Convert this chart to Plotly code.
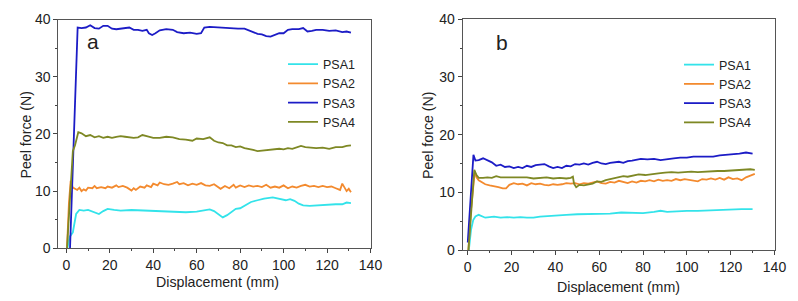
import plotly.graph_objects as go

# ---------------- data ----------------
series_names = ["PSA1", "PSA2", "PSA3", "PSA4"]
series_colors = ["#33E3EA", "#F38A2E", "#1C1CC6", "#7E8824"]

# panel a : (displacement mm, peel force N)
a_psa1 = [(0.5, 0), (1.5, 2.0), (3, 2.8), (4.5, 6.0), (6, 6.7), (8, 6.6), (10, 6.7), (13, 6.3),
          (15, 6.0), (17, 6.5), (19, 6.9), (22, 6.7), (25, 6.6), (30, 6.7), (35, 6.6), (40, 6.6),
          (45, 6.5), (50, 6.3), (55, 6.3), (60, 6.4), (63, 6.6), (66, 6.8), (68, 6.5), (70, 5.9),
          (72, 5.4), (74, 5.8), (76, 6.3), (78, 6.9), (80, 7.0), (82, 7.4), (85, 8.1), (88, 8.4),
          (91, 8.7), (95, 8.9), (97, 8.7), (99, 8.5), (101, 8.4), (103, 8.6), (105, 8.3), (107, 7.8),
          (109, 7.5), (112, 7.4), (115, 7.5), (118, 7.6), (121, 7.7), (124, 7.7), (127, 7.7),
          (129, 8.0), (131, 7.9)]
a_psa2 = [(0.3, 0), (1.2, 8.0), (2, 11.8), (3, 10.6), (4, 10.4), (5, 10.2), (6, 10.6), (7, 10.0),
          (8, 10.3), (9, 10.1), (10, 10.6), (12, 10.5), (13, 10.9), (14, 10.5), (16, 10.7), (18, 10.5),
          (19, 10.8), (21, 10.6), (23, 11.0), (24, 10.7), (26, 10.9), (28, 10.6), (30, 10.1), (31, 10.5),
          (32, 10.2), (34, 10.8), (36, 10.6), (37, 11.0), (39, 10.7), (40, 11.3), (42, 11.0), (43, 11.5),
          (45, 11.2), (47, 11.1), (49, 11.3), (51, 11.6), (52, 11.2), (54, 11.4), (56, 11.0), (58, 11.3),
          (60, 11.1), (62, 11.4), (64, 11.0), (66, 10.9), (68, 11.2), (70, 10.7), (71, 10.4), (73, 10.9),
          (75, 10.5), (77, 11.1), (78, 10.6), (80, 11.0), (82, 10.7), (84, 11.0), (86, 10.8), (88, 10.9),
          (90, 10.7), (92, 11.1), (94, 10.6), (96, 10.8), (98, 10.6), (100, 11.0), (102, 10.5),
          (104, 10.8), (106, 10.6), (108, 10.9), (110, 11.1), (112, 10.8), (114, 10.9), (116, 10.7),
          (118, 10.9), (120, 10.7), (122, 10.8), (124, 10.5), (126, 10.2), (127, 11.3), (128, 10.6),
          (129, 10.0), (130, 10.4), (131, 9.8)]
a_psa3 = [(1.7, 0), (3.5, 20.0), (5.2, 38.6), (7, 38.5), (9, 38.6), (11, 39.0), (13, 38.5), (15, 38.4),
          (17, 38.9), (19, 38.9), (21, 38.4), (23, 38.3), (26, 38.5), (29, 38.6), (31, 38.2), (33, 38.2),
          (35, 38.0), (37, 38.2), (38, 37.6), (39.5, 37.3), (41, 37.6), (43, 38.1), (46, 38.3), (49, 38.2),
          (51, 37.8), (54, 37.6), (57, 37.7), (60, 37.5), (62, 37.6), (63.5, 38.6), (66, 38.7), (70, 38.6),
          (73, 38.6), (76, 38.4), (79, 38.4), (82, 38.4), (84, 38.1), (86, 37.7), (88, 37.5), (90, 37.4),
          (92, 37.1), (94, 37.0), (96, 37.3), (98, 37.6), (100, 37.6), (102, 38.2), (104, 38.3),
          (107, 38.3), (109, 38.5), (111, 37.9), (113, 38.0), (115, 38.2), (118, 38.2), (121, 38.0),
          (124, 38.1), (127, 37.8), (129, 37.9), (131, 37.7)]
a_psa4 = [(0.3, 0), (1.5, 8.0), (3, 17.0), (4, 18.0), (5.5, 20.3), (7, 20.1), (9, 19.6), (11, 19.8),
          (13, 19.4), (15, 19.6), (17, 19.3), (19, 19.5), (21, 19.3), (23, 19.5), (25, 19.6), (27, 19.5),
          (29, 19.4), (31, 19.3), (33, 19.4), (35, 19.8), (37, 19.6), (40, 19.3), (43, 19.3), (46, 19.5),
          (49, 19.4), (52, 19.1), (55, 19.0), (58, 18.8), (60, 19.2), (63, 19.1), (66, 19.4), (68, 18.8),
          (70, 18.5), (72, 18.4), (74, 18.0), (76, 18.0), (78, 17.7), (80, 17.8), (82, 17.5), (84, 17.4),
          (86, 17.2), (88, 17.0), (90, 17.1), (92, 17.2), (94, 17.2), (96, 17.3), (98, 17.4), (100, 17.3),
          (102, 17.5), (104, 17.4), (106, 17.6), (108, 17.9), (110, 17.7), (112, 17.6), (115, 17.5),
          (118, 17.6), (121, 17.4), (124, 17.7), (127, 17.7), (129, 17.9), (131, 18.0)]

# panel b
b_psa1 = [(0.5, 0), (1.5, 3.5), (2.5, 5.2), (3.5, 5.8), (5, 6.1), (6.5, 5.9), (8, 5.6), (10, 5.7),
          (12, 5.8), (15, 5.6), (18, 5.7), (21, 5.6), (24, 5.7), (27, 5.6), (30, 5.6), (33, 5.8),
          (36, 5.9), (40, 6.0), (45, 6.1), (50, 6.2), (55, 6.2), (60, 6.3), (65, 6.3), (70, 6.5),
          (75, 6.4), (80, 6.4), (85, 6.6), (88, 6.8), (91, 6.6), (95, 6.7), (100, 6.8), (105, 6.8),
          (110, 6.9), (115, 6.9), (120, 7.0), (125, 7.1), (130, 7.1)]
b_psa2 = [(0.3, 0), (1.5, 7.0), (3.2, 13.6), (4, 12.6), (5, 12.1), (6, 11.9), (8, 11.4), (10, 11.2),
          (12, 11.1), (14, 10.9), (16, 10.7), (17.5, 10.7), (19, 11.3), (21, 11.6), (23, 11.4), (25, 11.5),
          (27, 11.2), (29, 11.6), (31, 11.4), (33, 11.5), (35, 11.3), (37, 11.2), (39, 11.4), (41, 11.3),
          (43, 11.4), (45, 11.6), (47, 11.5), (49, 11.6), (51, 11.4), (53, 11.6), (55, 11.5), (57, 11.7),
          (59, 11.9), (61, 11.6), (63, 11.5), (65, 11.8), (67, 11.7), (69, 12.0), (71, 11.8), (73, 11.6),
          (75, 11.9), (77, 11.7), (79, 12.0), (81, 11.9), (83, 12.1), (85, 11.9), (87, 12.2), (89, 12.0),
          (91, 12.1), (93, 12.0), (95, 12.3), (97, 12.1), (99, 12.3), (101, 12.2), (103, 12.1),
          (105, 11.9), (107, 12.3), (109, 12.2), (111, 12.4), (113, 12.2), (115, 12.5), (117, 12.2),
          (119, 12.6), (121, 12.3), (123, 12.4), (125, 12.1), (127, 12.6), (129, 12.9), (131, 13.2)]
b_psa3 = [(0, 1.3), (1.2, 8.0), (2.6, 16.5), (3.5, 15.5), (5, 15.6), (7, 15.9), (9, 15.6), (11, 15.2),
          (13, 14.6), (15, 14.8), (17, 14.4), (19, 14.5), (21, 14.2), (23, 14.4), (25, 14.2), (27, 14.6),
          (29, 14.4), (31, 14.7), (33, 14.8), (35, 14.9), (37, 14.5), (39, 14.2), (41, 14.4), (43, 14.2),
          (45, 14.6), (47, 14.5), (49, 14.9), (51, 14.8), (53, 15.0), (55, 14.8), (57, 15.1), (59, 15.3),
          (61, 15.0), (63, 14.9), (65, 15.1), (67, 15.2), (69, 15.3), (71, 15.1), (73, 15.4), (75, 15.5),
          (77, 15.6), (79, 15.8), (82, 15.7), (85, 15.8), (88, 15.6), (91, 15.8), (94, 15.9), (97, 16.0),
          (100, 16.0), (103, 16.2), (106, 16.2), (109, 16.3), (112, 16.2), (115, 16.4), (118, 16.5),
          (121, 16.5), (124, 16.7), (127, 16.9), (130, 16.7)]
b_psa4 = [(0.3, 0), (1.5, 6.0), (3.0, 13.9), (4, 13.0), (5, 12.5), (7, 12.5), (9, 12.6), (11, 12.5),
          (13, 12.8), (15, 12.6), (18, 12.6), (21, 12.5), (24, 12.6), (27, 12.6), (30, 12.4), (33, 12.5),
          (36, 12.6), (39, 12.4), (42, 12.5), (45, 12.4), (47, 12.5), (48, 12.7), (48.5, 11.5), (49.5, 10.9),
          (51, 11.3), (53, 11.2), (55, 11.3), (57, 11.5), (59, 11.9), (61, 11.8), (63, 12.1), (65, 12.3),
          (67, 12.5), (69, 12.6), (71, 12.8), (73, 12.7), (75, 12.9), (78, 13.1), (81, 13.0), (84, 13.2),
          (87, 13.3), (90, 13.4), (93, 13.5), (96, 13.4), (99, 13.5), (102, 13.6), (105, 13.5), (108, 13.6),
          (111, 13.7), (114, 13.7), (117, 13.7), (120, 13.8), (123, 13.8), (126, 13.9), (129, 14.0),
          (131, 13.9)]

x_ticks = [0, 20, 40, 60, 80, 100, 120, 140]
y_ticks = [0, 10, 20, 30, 40]
x_title = "Displacement (mm)"
y_title = "Peel force (N)"
panel_labels = ["a", "b"]

# ---------------- figure ----------------
W, H = 798, 301
FONT = "Liberation Sans, Arial, sans-serif"
TXT = "#222222"

fig = go.Figure()
panels = [
    ([a_psa1, a_psa2, a_psa3, a_psa4], "x", "y", "legend"),
    ([b_psa1, b_psa2, b_psa3, b_psa4], "x2", "y2", "legend2"),
]
for data, xa, ya, lg in panels:
    for name, color, pts in zip(series_names, series_colors, data):
        fig.add_trace(go.Scatter(
            x=[p[0] for p in pts], y=[p[1] for p in pts], name=name, mode="lines",
            line=dict(color=color, width=1.8), xaxis=xa, yaxis=ya, legend=lg))

def px_x(p):
    return p / W

def px_y(p):
    return 1 - p / H

axis_common = dict(
    showline=True, linecolor="#555555", linewidth=1, mirror=True,
    ticks="outside", ticklen=4, tickwidth=1, tickcolor="#444444",
    showgrid=False, zeroline=False, automargin=False,
    tickfont=dict(family=FONT, size=14, color=TXT),
)

fig.update_layout(
    template="none",
    width=W, height=H,
    paper_bgcolor="white", plot_bgcolor="white",
    margin=dict(l=0, r=0, t=0, b=0, pad=0),
    xaxis=dict(domain=[px_x(58.3), px_x(370.5)], range=[-3.7, 140], anchor="y",
               tickvals=x_ticks, minor=dict(dtick=10, ticks="outside", ticklen=2, tickcolor="#444444"),
               **axis_common),
    yaxis=dict(domain=[px_y(248.3), px_y(19.5)], range=[0, 40], anchor="x",
               tickvals=y_ticks, minor=dict(dtick=5, ticks="outside", ticklen=2, tickcolor="#444444"),
               **axis_common),
    xaxis2=dict(domain=[px_x(462.7), px_x(774.5)], range=[-2.3, 140], anchor="y2",
                tickvals=x_ticks, minor=dict(dtick=10, ticks="outside", ticklen=2, tickcolor="#444444"),
                **axis_common),
    yaxis2=dict(domain=[px_y(250), px_y(19.3)], range=[0, 40], anchor="x2",
                tickvals=y_ticks, minor=dict(dtick=5, ticks="outside", ticklen=2, tickcolor="#444444"),
                **axis_common),
    legend=dict(x=px_x(283), y=px_y(49.5), xanchor="left", yanchor="top",
                bgcolor="rgba(0,0,0,0)", borderwidth=0,
                font=dict(family=FONT, size=12.5, color=TXT)),
    legend2=dict(x=px_x(679), y=px_y(50), xanchor="left", yanchor="top",
                 bgcolor="rgba(0,0,0,0)", borderwidth=0,
                 font=dict(family=FONT, size=12.5, color=TXT)),
    showlegend=True,
)

annotations = [
    dict(text=x_title, x=px_x(217), y=px_y(281.7), xref="paper", yref="paper",
         showarrow=False, xanchor="center", yanchor="middle",
         font=dict(family=FONT, size=14.2, color=TXT)),
    dict(text=x_title, x=px_x(618), y=px_y(286.7), xref="paper", yref="paper",
         showarrow=False, xanchor="center", yanchor="middle",
         font=dict(family=FONT, size=14.2, color=TXT)),
    dict(text=y_title, x=px_x(25.5), y=px_y(135), xref="paper", yref="paper", textangle=-90,
         showarrow=False, xanchor="center", yanchor="middle",
         font=dict(family=FONT, size=14.2, color=TXT)),
    dict(text=y_title, x=px_x(428), y=px_y(135), xref="paper", yref="paper", textangle=-90,
         showarrow=False, xanchor="center", yanchor="middle",
         font=dict(family=FONT, size=14.2, color=TXT)),
    dict(text=panel_labels[0], x=12.4, y=36.1, xref="x", yref="y", showarrow=False,
         xanchor="center", yanchor="middle", font=dict(family=FONT, size=21, color=TXT)),
    dict(text=panel_labels[1], x=15.5, y=36.0, xref="x2", yref="y2", showarrow=False,
         xanchor="center", yanchor="middle", font=dict(family=FONT, size=21, color=TXT)),
]
fig.update_layout(annotations=annotations)

fig.write_html(
    "out.html",
    config={"displayModeBar": False},
    post_script="document.body.style.margin='0';document.body.style.padding='0';"
                "document.body.style.overflow='hidden';",
)
